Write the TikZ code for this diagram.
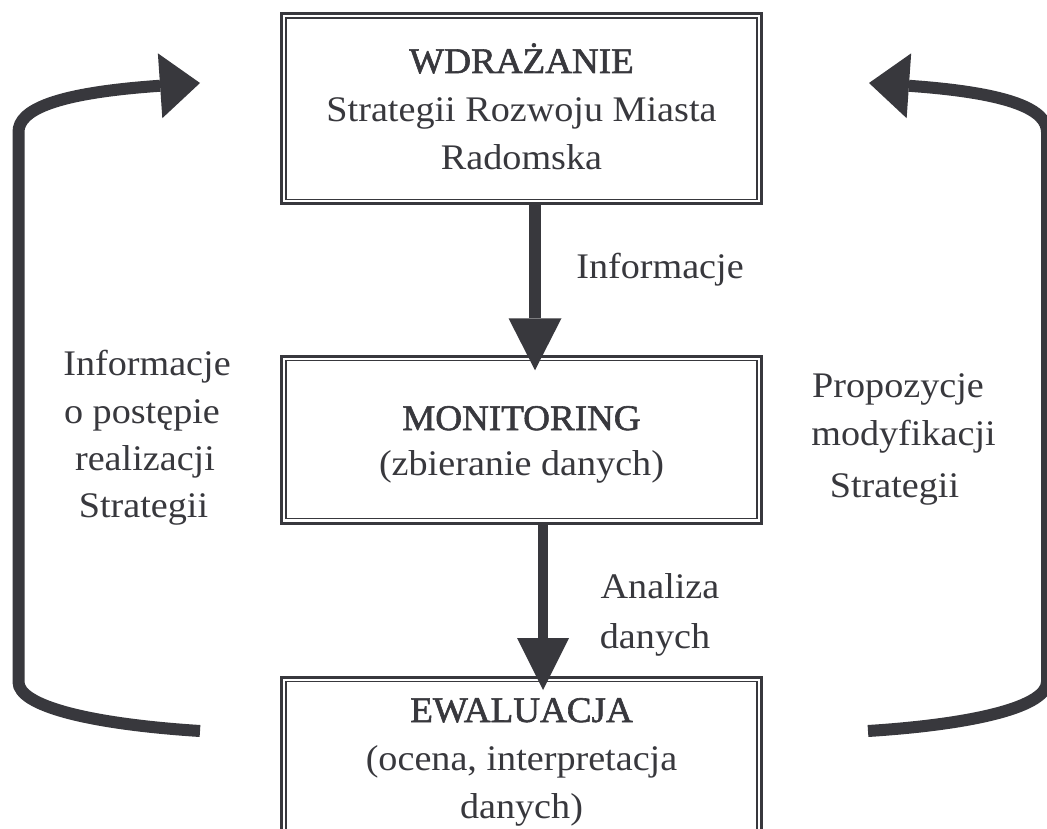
\documentclass[tikz,border=0pt]{standalone}
\usepackage{fontspec}
\setmainfont[FakeStretch=1.06]{Liberation Serif}
\newfontfamily\titlefont[FakeStretch=1.03,FakeBold=1.6]{Liberation Serif}
\usetikzlibrary{arrows.meta}
\definecolor{ink}{RGB}{56,56,61}
\begin{document}
\begin{tikzpicture}[x=1pt,y=-1pt,
  boxframe/.style={draw=ink, line width=3pt, inner sep=0pt, outer sep=0pt, minimum width=480pt},
  innerframe/.style={draw=ink, line width=1.3pt},
  txt/.style={anchor=base, text=ink, inner sep=0pt, font=\fontsize{36}{43}\selectfont},
  ttl/.style={txt, font=\fontsize{36}{43}\selectfont\titlefont},
  flow/.style={draw=ink, line width=#1},
  bigtip/.style 2 args={-{Triangle[length=#1,width=#2,line width=0pt]}}
]
\useasboundingbox (0,0) rectangle (1047,829);
\clip (0,0) rectangle (1047,829);
\fill[white] (0,0) rectangle (1047,829);

% boxes
\node[boxframe, minimum height=190.5pt] (top) at (521.5,108.75) {};
\node[boxframe, minimum height=167pt] (mon) at (521.5,439.75) {};
\node[boxframe, minimum height=223pt] (eva) at (521.5,788.5) {};
\foreach \b in {top,mon,eva}
  \draw[innerframe] ([xshift=4.5pt,yshift=-4.5pt]\b.north west) rectangle ([xshift=-4.5pt,yshift=4.5pt]\b.south east);

% box texts
\node[ttl] (t1) at (521.5,73) {WDRAŻANIE};
\node[txt] (t2) at (521.5,122) {Strategii Rozwoju Miasta};
\node[txt] (t3) at (521.5,170) {Radomska};
\node[ttl] (m1) at (521.5,430) {MONITORING};
\node[txt] (m2) at (521.5,475) {(zbieranie danych)};
\node[ttl] (e1) at (521.5,722) {EWALUACJA};
\node[txt] (e2) at (521.5,770) {(ocena, interpretacja};
\node[txt] (e3) at (521.5,818) {danych)};

% labels
\node[txt] (lab1) at (660,279) {Informacje};
\node[txt] (la1) at (147,375) {Informacje};
\node[txt] (la2) at (142,423) {o postępie};
\node[txt] (la3) at (145,470) {realizacji};
\node[txt] (la4) at (143.5,517) {Strategii};
\node[txt] (ra1) at (898,397) {Propozycje};
\node[txt] (ra2) at (903.5,445) {modyfikacji};
\node[txt] (ra3) at (894.5,497) {Strategii};
\node[txt] (an1) at (660,598) {Analiza};
\node[txt] (an2) at (655,648) {danych};

% straight arrows
\draw[flow=12pt, bigtip={52pt}{53pt}] ([xshift=13.5pt,yshift=-1.5pt]top.south) -- ([xshift=13.5pt,yshift=-14pt]mon.north);
\draw[flow=10.5pt, bigtip={52pt}{52pt}] ([xshift=21.5pt,yshift=-1.5pt]mon.south) -- ([xshift=21.5pt,yshift=-13pt]eva.north);

% loop arrows
\coordinate (LB) at (200,731);
\coordinate (LT) at (200,83);
\coordinate (RB) at (868,731);
\coordinate (RT) at (869,83);
\draw[flow=12pt, bigtip={40pt}{65pt}] (LB) .. controls (90,724) and (18.5,706) .. (18.5,682)
  -- (18.5,132) .. controls (18.5,110) and (55,93) .. (LT);
\draw[flow=12pt, bigtip={40pt}{65pt}] (RB) .. controls (978,724) and (1047,706) .. (1047,682)
  -- (1047,132) .. controls (1047,110) and (1012,93) .. (RT);
\end{tikzpicture}
\end{document}
